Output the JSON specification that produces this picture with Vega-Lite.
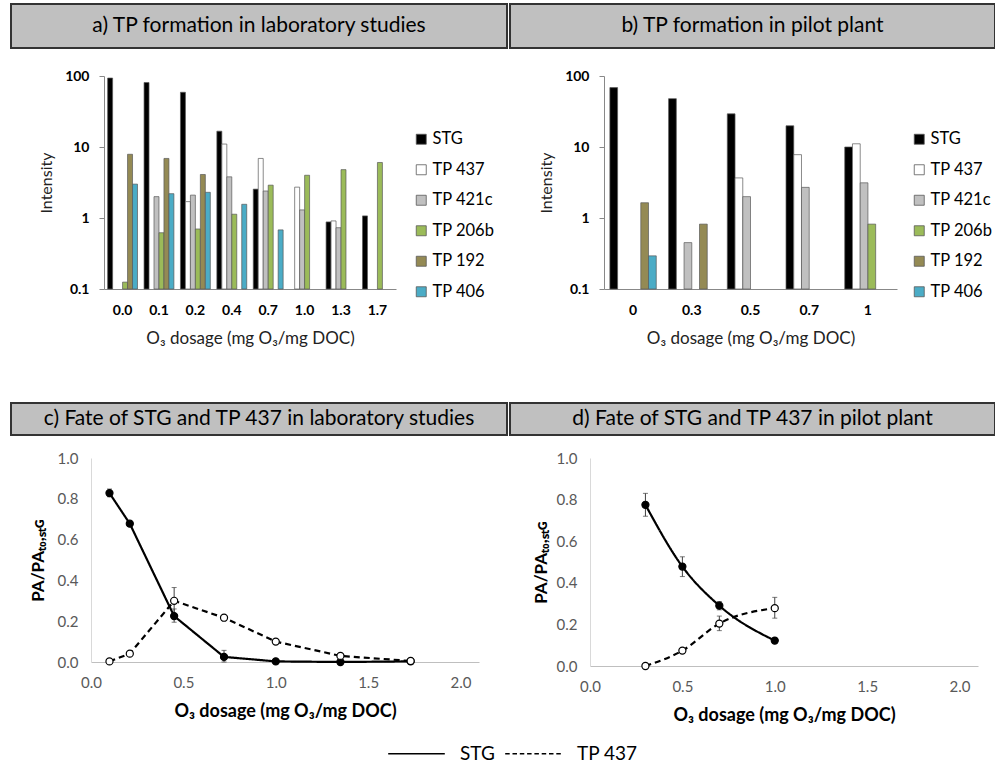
{
  "$schema": "https://vega.github.io/schema/vega-lite/v6.json",
  "padding": {"left": 8, "top": 3, "right": 0, "bottom": 0},
  "background": "white",
  "datasets": {
    "bars": [
      {"panel": "a", "dose": "0.0", "series": "STG", "value": 93.6},
      {"panel": "a", "dose": "0.0", "series": "TP 206b", "value": 0.125},
      {"panel": "a", "dose": "0.0", "series": "TP 192", "value": 7.9},
      {"panel": "a", "dose": "0.0", "series": "TP 406", "value": 3.0},
      {"panel": "a", "dose": "0.1", "series": "STG", "value": 81},
      {"panel": "a", "dose": "0.1", "series": "TP 421c", "value": 2.0},
      {"panel": "a", "dose": "0.1", "series": "TP 206b", "value": 0.62},
      {"panel": "a", "dose": "0.1", "series": "TP 192", "value": 6.9},
      {"panel": "a", "dose": "0.1", "series": "TP 406", "value": 2.2},
      {"panel": "a", "dose": "0.2", "series": "STG", "value": 59},
      {"panel": "a", "dose": "0.2", "series": "TP 437", "value": 1.7},
      {"panel": "a", "dose": "0.2", "series": "TP 421c", "value": 2.1},
      {"panel": "a", "dose": "0.2", "series": "TP 206b", "value": 0.7},
      {"panel": "a", "dose": "0.2", "series": "TP 192", "value": 4.1},
      {"panel": "a", "dose": "0.2", "series": "TP 406", "value": 2.3},
      {"panel": "a", "dose": "0.4", "series": "STG", "value": 16.7},
      {"panel": "a", "dose": "0.4", "series": "TP 437", "value": 11.0},
      {"panel": "a", "dose": "0.4", "series": "TP 421c", "value": 3.8},
      {"panel": "a", "dose": "0.4", "series": "TP 206b", "value": 1.13},
      {"panel": "a", "dose": "0.4", "series": "TP 406", "value": 1.56},
      {"panel": "a", "dose": "0.7", "series": "STG", "value": 2.55},
      {"panel": "a", "dose": "0.7", "series": "TP 437", "value": 6.9},
      {"panel": "a", "dose": "0.7", "series": "TP 421c", "value": 2.4},
      {"panel": "a", "dose": "0.7", "series": "TP 206b", "value": 2.9},
      {"panel": "a", "dose": "0.7", "series": "TP 406", "value": 0.68},
      {"panel": "a", "dose": "1.0", "series": "TP 437", "value": 2.72},
      {"panel": "a", "dose": "1.0", "series": "TP 421c", "value": 1.3},
      {"panel": "a", "dose": "1.0", "series": "TP 206b", "value": 4.0},
      {"panel": "a", "dose": "1.3", "series": "STG", "value": 0.88},
      {"panel": "a", "dose": "1.3", "series": "TP 437", "value": 0.91},
      {"panel": "a", "dose": "1.3", "series": "TP 421c", "value": 0.73},
      {"panel": "a", "dose": "1.3", "series": "TP 206b", "value": 4.8},
      {"panel": "a", "dose": "1.7", "series": "STG", "value": 1.07},
      {"panel": "a", "dose": "1.7", "series": "TP 206b", "value": 6.05},
      {"panel": "b", "dose": "0", "series": "STG", "value": 68.6},
      {"panel": "b", "dose": "0", "series": "TP 192", "value": 1.64},
      {"panel": "b", "dose": "0", "series": "TP 406", "value": 0.293},
      {"panel": "b", "dose": "0.3", "series": "STG", "value": 48},
      {"panel": "b", "dose": "0.3", "series": "TP 421c", "value": 0.45},
      {"panel": "b", "dose": "0.3", "series": "TP 192", "value": 0.82},
      {"panel": "b", "dose": "0.5", "series": "STG", "value": 29.3},
      {"panel": "b", "dose": "0.5", "series": "TP 437", "value": 3.67},
      {"panel": "b", "dose": "0.5", "series": "TP 421c", "value": 2.0},
      {"panel": "b", "dose": "0.7", "series": "STG", "value": 19.9},
      {"panel": "b", "dose": "0.7", "series": "TP 437", "value": 7.8},
      {"panel": "b", "dose": "0.7", "series": "TP 421c", "value": 2.7},
      {"panel": "b", "dose": "1", "series": "STG", "value": 10.0},
      {"panel": "b", "dose": "1", "series": "TP 437", "value": 11.1},
      {"panel": "b", "dose": "1", "series": "TP 421c", "value": 3.13},
      {"panel": "b", "dose": "1", "series": "TP 206b", "value": 0.82}
    ],
    "lines": [
      {"panel": "c", "series": "STG", "dose": 0.1, "pa": 0.828, "lo": 0.81, "hi": 0.848},
      {"panel": "c", "series": "STG", "dose": 0.21, "pa": 0.678, "lo": 0.665, "hi": 0.69},
      {"panel": "c", "series": "STG", "dose": 0.45, "pa": 0.225, "lo": 0.195, "hi": 0.26},
      {"panel": "c", "series": "STG", "dose": 0.72, "pa": 0.025, "lo": 0.0, "hi": 0.057},
      {"panel": "c", "series": "STG", "dose": 1.0, "pa": 0.003, "lo": null, "hi": null},
      {"panel": "c", "series": "STG", "dose": 1.35, "pa": 0.0, "lo": null, "hi": null},
      {"panel": "c", "series": "STG", "dose": 1.73, "pa": 0.003, "lo": null, "hi": null},
      {"panel": "c", "series": "TP 437", "dose": 0.1, "pa": 0.003, "lo": null, "hi": null},
      {"panel": "c", "series": "TP 437", "dose": 0.21, "pa": 0.041, "lo": null, "hi": null},
      {"panel": "c", "series": "TP 437", "dose": 0.45, "pa": 0.30, "lo": 0.235, "hi": 0.365},
      {"panel": "c", "series": "TP 437", "dose": 0.72, "pa": 0.217, "lo": null, "hi": null},
      {"panel": "c", "series": "TP 437", "dose": 1.0, "pa": 0.10, "lo": 0.09, "hi": 0.11},
      {"panel": "c", "series": "TP 437", "dose": 1.35, "pa": 0.03, "lo": null, "hi": null},
      {"panel": "c", "series": "TP 437", "dose": 1.73, "pa": 0.005, "lo": null, "hi": null},
      {"panel": "d", "series": "STG", "dose": 0.3, "pa": 0.775, "lo": 0.72, "hi": 0.83},
      {"panel": "d", "series": "STG", "dose": 0.5, "pa": 0.478, "lo": 0.43, "hi": 0.525},
      {"panel": "d", "series": "STG", "dose": 0.7, "pa": 0.29, "lo": 0.27, "hi": 0.31},
      {"panel": "d", "series": "STG", "dose": 1.0, "pa": 0.122, "lo": 0.11, "hi": 0.135},
      {"panel": "d", "series": "TP 437", "dose": 0.3, "pa": 0.0, "lo": null, "hi": null},
      {"panel": "d", "series": "TP 437", "dose": 0.5, "pa": 0.074, "lo": 0.065, "hi": 0.085},
      {"panel": "d", "series": "TP 437", "dose": 0.7, "pa": 0.204, "lo": 0.17, "hi": 0.24},
      {"panel": "d", "series": "TP 437", "dose": 1.0, "pa": 0.278, "lo": 0.23, "hi": 0.33}
    ]
  },
  "config": {
    "font": "Lato",
    "view": {"stroke": null},
    "axis": {"grid": false, "labelFlush": false}
  },
  "resolve": {"scale": {"color": "independent", "fill": "independent", "strokeDash": "independent", "xOffset": "independent"}, "legend": {"color": "independent", "fill": "independent", "strokeDash": "independent"}},
  "spacing": 56,
  "vconcat": [
    {
      "spacing": 20,
      "resolve": {"scale": {"color": "independent", "fill": "independent", "strokeDash": "independent", "xOffset": "independent"}, "legend": {"color": "independent", "fill": "independent", "strokeDash": "independent"}},
      "vconcat": [
        {
          "spacing": 1,
          "hconcat": [
            {"width": 496, "height": 44, "view": {"fill": "#c0c0c0", "stroke": "#333333", "strokeWidth": 2},
             "data": {"values": [{"t": "a) TP formation in laboratory studies"}]},
             "mark": {"type": "text", "fontSize": 21, "color": "black"},
             "encoding": {"text": {"field": "t"}}},
            {"width": 485, "height": 44, "view": {"fill": "#c0c0c0", "stroke": "#333333", "strokeWidth": 2},
             "data": {"values": [{"t": "b) TP formation in  pilot plant"}]},
             "mark": {"type": "text", "fontSize": 21, "color": "black"},
             "encoding": {"text": {"field": "t"}}}
          ]
        },
        {
          "spacing": 0,
          "resolve": {"scale": {"color": "independent", "fill": "independent", "strokeDash": "independent", "xOffset": "independent"}, "legend": {"color": "independent", "fill": "independent", "strokeDash": "independent"}},
          "hconcat": [
            {"width": 27, "height": 1, "data": {"values": []}, "mark": "point", "encoding": {}},
            {
              "spacing": 43,
              "resolve": {"scale": {"color": "independent", "fill": "independent", "strokeDash": "independent", "xOffset": "independent"}, "legend": {"color": "independent", "fill": "independent", "strokeDash": "independent"}},
              "hconcat": [
                {
                  "width": 292, "height": 213,
                  "data": {"name": "bars"},
                  "transform": [{"filter": "datum.panel == 'a'"}],
                  "mark": {"type": "bar", "stroke": "#595959", "strokeWidth": 0.7},
                  "encoding": {
                    "x": {"field": "dose", "type": "nominal", "sort": null,
                          "scale": {"domain": ["0.0", "0.1", "0.2", "0.4", "0.7", "1.0", "1.3", "1.7"], "paddingInner": 0.18, "paddingOuter": 0.1},
                          "axis": {"title": "O₃ dosage (mg O₃/mg DOC)", "labelAngle": 0, "ticks": false, "labelPadding": 14, "labelFontWeight": "bold", "labelFontSize": 14, "labelColor": "black", "domainColor": "#888888", "titleFontSize": 17, "titleFontWeight": "normal", "titleColor": "#222222", "titlePadding": 13}},
                    "xOffset": {"field": "series", "type": "nominal",
                                "scale": {"domain": ["STG", "TP 437", "TP 421c", "TP 206b", "TP 192", "TP 406"], "paddingInner": 0, "paddingOuter": 0}},
                    "y": {"field": "value", "type": "quantitative",
                          "scale": {"type": "log", "domain": [0.1, 100]},
                          "axis": {"values": [0.1, 1, 10, 100], "format": "~g", "title": "Intensity", "labelFontWeight": "bold", "labelFontSize": 14, "labelColor": "black", "domainColor": "#888888", "tickColor": "#888888", "tickSize": 5, "labelPadding": 10, "titleFontSize": 16, "titleFontWeight": "normal", "titleColor": "#222222", "titlePadding": 10}},
                    "y2": {"datum": 0.1},
                    "color": {"field": "series", "type": "nominal",
                              "scale": {"domain": ["STG", "TP 437", "TP 421c", "TP 206b", "TP 192", "TP 406"], "range": ["#000000", "#ffffff", "#c0c0c0", "#9bbb59", "#948a54", "#4bacc6"]},
                              "legend": {"orient": "none", "legendX": 309, "legendY": 55, "title": null, "symbolType": "square", "symbolSize": 100, "symbolStrokeColor": "#595959", "symbolStrokeWidth": 0.8, "labelFontSize": 16.5, "labelColor": "black", "labelOffset": 3, "rowPadding": 13.5}}
                  }
                },
                {
                  "width": 293, "height": 213,
                  "data": {"name": "bars"},
                  "transform": [{"filter": "datum.panel == 'b'"}],
                  "mark": {"type": "bar", "stroke": "#595959", "strokeWidth": 0.7},
                  "encoding": {
                    "x": {"field": "dose", "type": "nominal", "sort": null,
                          "scale": {"domain": ["0", "0.3", "0.5", "0.7", "1"], "paddingInner": 0.21, "paddingOuter": 0.1},
                          "axis": {"title": "O₃ dosage (mg O₃/mg DOC)", "labelAngle": 0, "ticks": false, "labelPadding": 14, "labelFontWeight": "bold", "labelFontSize": 14, "labelColor": "black", "domainColor": "#888888", "titleFontSize": 17, "titleFontWeight": "normal", "titleColor": "#222222", "titlePadding": 13}},
                    "xOffset": {"field": "series", "type": "nominal",
                                "scale": {"domain": ["STG", "TP 437", "TP 421c", "TP 206b", "TP 192", "TP 406"], "paddingInner": 0, "paddingOuter": 0}},
                    "y": {"field": "value", "type": "quantitative",
                          "scale": {"type": "log", "domain": [0.1, 100]},
                          "axis": {"values": [0.1, 1, 10, 100], "format": "~g", "title": "Intensity", "labelFontWeight": "bold", "labelFontSize": 14, "labelColor": "black", "domainColor": "#888888", "tickColor": "#888888", "tickSize": 5, "labelPadding": 10, "titleFontSize": 16, "titleFontWeight": "normal", "titleColor": "#222222", "titlePadding": 10}},
                    "y2": {"datum": 0.1},
                    "color": {"field": "series", "type": "nominal",
                              "scale": {"domain": ["STG", "TP 437", "TP 421c", "TP 206b", "TP 192", "TP 406"], "range": ["#000000", "#ffffff", "#c0c0c0", "#9bbb59", "#948a54", "#4bacc6"]},
                              "legend": {"orient": "none", "legendX": 307, "legendY": 55, "title": null, "symbolType": "square", "symbolSize": 100, "symbolStrokeColor": "#595959", "symbolStrokeWidth": 0.8, "labelFontSize": 16.5, "labelColor": "black", "labelOffset": 3, "rowPadding": 13.5}}
                  }
                }
              ]
            }
          ]
        }
      ]
    },
    {
      "spacing": 15,
      "resolve": {"scale": {"color": "independent", "fill": "independent", "strokeDash": "independent", "xOffset": "independent"}, "legend": {"color": "independent", "fill": "independent", "strokeDash": "independent"}},
      "vconcat": [
        {
          "spacing": 1,
          "hconcat": [
            {"width": 496, "height": 32, "view": {"fill": "#c0c0c0", "stroke": "#333333", "strokeWidth": 2},
             "data": {"values": [{"t": "c) Fate of STG and TP 437 in laboratory studies"}]},
             "mark": {"type": "text", "fontSize": 21, "color": "black"},
             "encoding": {"text": {"field": "t"}}},
            {"width": 485, "height": 32, "view": {"fill": "#c0c0c0", "stroke": "#333333", "strokeWidth": 2},
             "data": {"values": [{"t": "d) Fate of STG and TP 437 in  pilot plant"}]},
             "mark": {"type": "text", "fontSize": 21, "color": "black"},
             "encoding": {"text": {"field": "t"}}}
          ]
        },
        {
          "spacing": 0,
          "resolve": {"scale": {"color": "independent", "fill": "independent", "strokeDash": "independent", "xOffset": "independent"}, "legend": {"color": "independent", "fill": "independent", "strokeDash": "independent"}},
          "hconcat": [
            {"width": 18, "height": 1, "data": {"values": []}, "mark": "point", "encoding": {}},
            {
              "spacing": 53,
              "resolve": {"scale": {"color": "independent", "fill": "independent", "strokeDash": "independent", "xOffset": "independent"}, "legend": {"color": "independent", "fill": "independent", "strokeDash": "independent"}},
              "hconcat": [
                {
                  "width": 388, "height": 204,
                  "data": {"name": "lines"},
                  "transform": [{"filter": "datum.panel == 'c'"}],
                  "encoding": {
                    "x": {"field": "dose", "type": "quantitative", "scale": {"domain": [0, 2.1], "nice": false},
                          "axis": {"values": [0, 0.5, 1, 1.5, 2], "format": ".1f", "title": "O₃ dosage (mg O₃/mg DOC)", "ticks": false, "labelPadding": 13, "labelFontSize": 15, "labelColor": "#595959", "domainColor": "#bfbfbf", "titleFontSize": 18, "titleFontWeight": "bold", "titleColor": "black", "titlePadding": 12}}
                  },
                  "layer": [
                    {"transform": [{"filter": "datum.lo != null"}],
                     "mark": {"type": "errorbar", "ticks": true, "color": "#404040"},
                     "encoding": {
                       "y": {"field": "lo", "type": "quantitative", "scale": {"domain": [0, 1], "nice": false},
                             "axis": {"values": [0, 0.2, 0.4, 0.6, 0.8, 1], "format": ".1f", "title": "PA/PAₜ₀,ₛₜɢ", "ticks": false, "labelPadding": 13, "labelFontSize": 15, "labelColor": "#595959", "domainColor": "#d9d9d9", "titleFontSize": 17, "titleFontWeight": "bold", "titleColor": "black", "titlePadding": 10}},
                       "y2": {"field": "hi"}
                     }},
                    {"mark": {"type": "line", "color": "black", "strokeWidth": 2.2},
                     "encoding": {
                       "y": {"field": "pa", "type": "quantitative", "scale": {"domain": [0, 1], "nice": false},
                             "axis": {"values": [0, 0.2, 0.4, 0.6, 0.8, 1], "format": ".1f", "title": "PA/PAₜ₀,ₛₜɢ", "ticks": false, "labelPadding": 13, "labelFontSize": 15, "labelColor": "#595959", "domainColor": "#d9d9d9", "titleFontSize": 17, "titleFontWeight": "bold", "titleColor": "black", "titlePadding": 10}},
                       "strokeDash": {"field": "series", "type": "nominal", "scale": {"domain": ["STG", "TP 437"], "range": [[1, 0], [6, 4]]}, "legend": null}
                     }},
                    {"mark": {"type": "point", "filled": true, "size": 50, "stroke": "black", "strokeWidth": 1.2, "opacity": 1},
                     "encoding": {
                       "y": {"field": "pa", "type": "quantitative", "scale": {"domain": [0, 1], "nice": false},
                             "axis": {"values": [0, 0.2, 0.4, 0.6, 0.8, 1], "format": ".1f", "title": "PA/PAₜ₀,ₛₜɢ", "ticks": false, "labelPadding": 13, "labelFontSize": 15, "labelColor": "#595959", "domainColor": "#d9d9d9", "titleFontSize": 17, "titleFontWeight": "bold", "titleColor": "black", "titlePadding": 10}},
                       "fill": {"field": "series", "type": "nominal", "scale": {"domain": ["STG", "TP 437"], "range": ["black", "white"]}, "legend": null}
                     }}
                  ]
                },
                {
                  "width": 388, "height": 208,
                  "data": {"name": "lines"},
                  "transform": [{"filter": "datum.panel == 'd'"}],
                  "encoding": {
                    "x": {"field": "dose", "type": "quantitative", "scale": {"domain": [0, 2.1], "nice": false},
                          "axis": {"values": [0, 0.5, 1, 1.5, 2], "format": ".1f", "title": "O₃ dosage (mg O₃/mg DOC)", "ticks": false, "labelPadding": 13, "labelFontSize": 15, "labelColor": "#595959", "domainColor": "#bfbfbf", "titleFontSize": 18, "titleFontWeight": "bold", "titleColor": "black", "titlePadding": 12}}
                  },
                  "layer": [
                    {"transform": [{"filter": "datum.lo != null"}],
                     "mark": {"type": "errorbar", "ticks": true, "color": "#404040"},
                     "encoding": {
                       "y": {"field": "lo", "type": "quantitative", "scale": {"domain": [0, 1], "nice": false},
                             "axis": {"values": [0, 0.2, 0.4, 0.6, 0.8, 1], "format": ".1f", "title": "PA/PAₜ₀,ₛₜɢ", "ticks": false, "labelPadding": 13, "labelFontSize": 15, "labelColor": "#595959", "domainColor": "#d9d9d9", "titleFontSize": 17, "titleFontWeight": "bold", "titleColor": "black", "titlePadding": 6}},
                       "y2": {"field": "hi"}
                     }},
                    {"mark": {"type": "line", "color": "black", "strokeWidth": 2.2, "interpolate": "monotone"},
                     "encoding": {
                       "y": {"field": "pa", "type": "quantitative", "scale": {"domain": [0, 1], "nice": false},
                             "axis": {"values": [0, 0.2, 0.4, 0.6, 0.8, 1], "format": ".1f", "title": "PA/PAₜ₀,ₛₜɢ", "ticks": false, "labelPadding": 13, "labelFontSize": 15, "labelColor": "#595959", "domainColor": "#d9d9d9", "titleFontSize": 17, "titleFontWeight": "bold", "titleColor": "black", "titlePadding": 6}},
                       "strokeDash": {"field": "series", "type": "nominal", "scale": {"domain": ["STG", "TP 437"], "range": [[1, 0], [6, 4]]}, "legend": null}
                     }},
                    {"mark": {"type": "point", "filled": true, "size": 50, "stroke": "black", "strokeWidth": 1.2, "opacity": 1},
                     "encoding": {
                       "y": {"field": "pa", "type": "quantitative", "scale": {"domain": [0, 1], "nice": false},
                             "axis": {"values": [0, 0.2, 0.4, 0.6, 0.8, 1], "format": ".1f", "title": "PA/PAₜ₀,ₛₜɢ", "ticks": false, "labelPadding": 13, "labelFontSize": 15, "labelColor": "#595959", "domainColor": "#d9d9d9", "titleFontSize": 17, "titleFontWeight": "bold", "titleColor": "black", "titlePadding": 6}},
                       "fill": {"field": "series", "type": "nominal", "scale": {"domain": ["STG", "TP 437"], "range": ["black", "white"]}, "legend": null}
                     }}
                  ]
                }
              ]
            }
          ]
        },
        {
          "width": 1, "height": 1,
          "data": {"values": [{"series": "STG"}, {"series": "TP 437"}]},
          "mark": {"type": "line", "color": "black", "strokeWidth": 1.5},
          "encoding": {
            "strokeDash": {"field": "series", "type": "nominal",
                           "scale": {"domain": ["STG", "TP 437"], "range": [[1, 0], [4.5, 2.8]]},
                           "legend": {"orient": "none", "legendX": 395, "legendY": 1, "direction": "horizontal", "title": null, "symbolType": "M-3,0H3", "symbolSize": 356, "symbolStrokeColor": "black", "symbolStrokeWidth": 1.5, "labelFontSize": 19, "labelColor": "black", "labelOffset": 33, "columnPadding": 7}}
          }
        }
      ]
    }
  ]
}
